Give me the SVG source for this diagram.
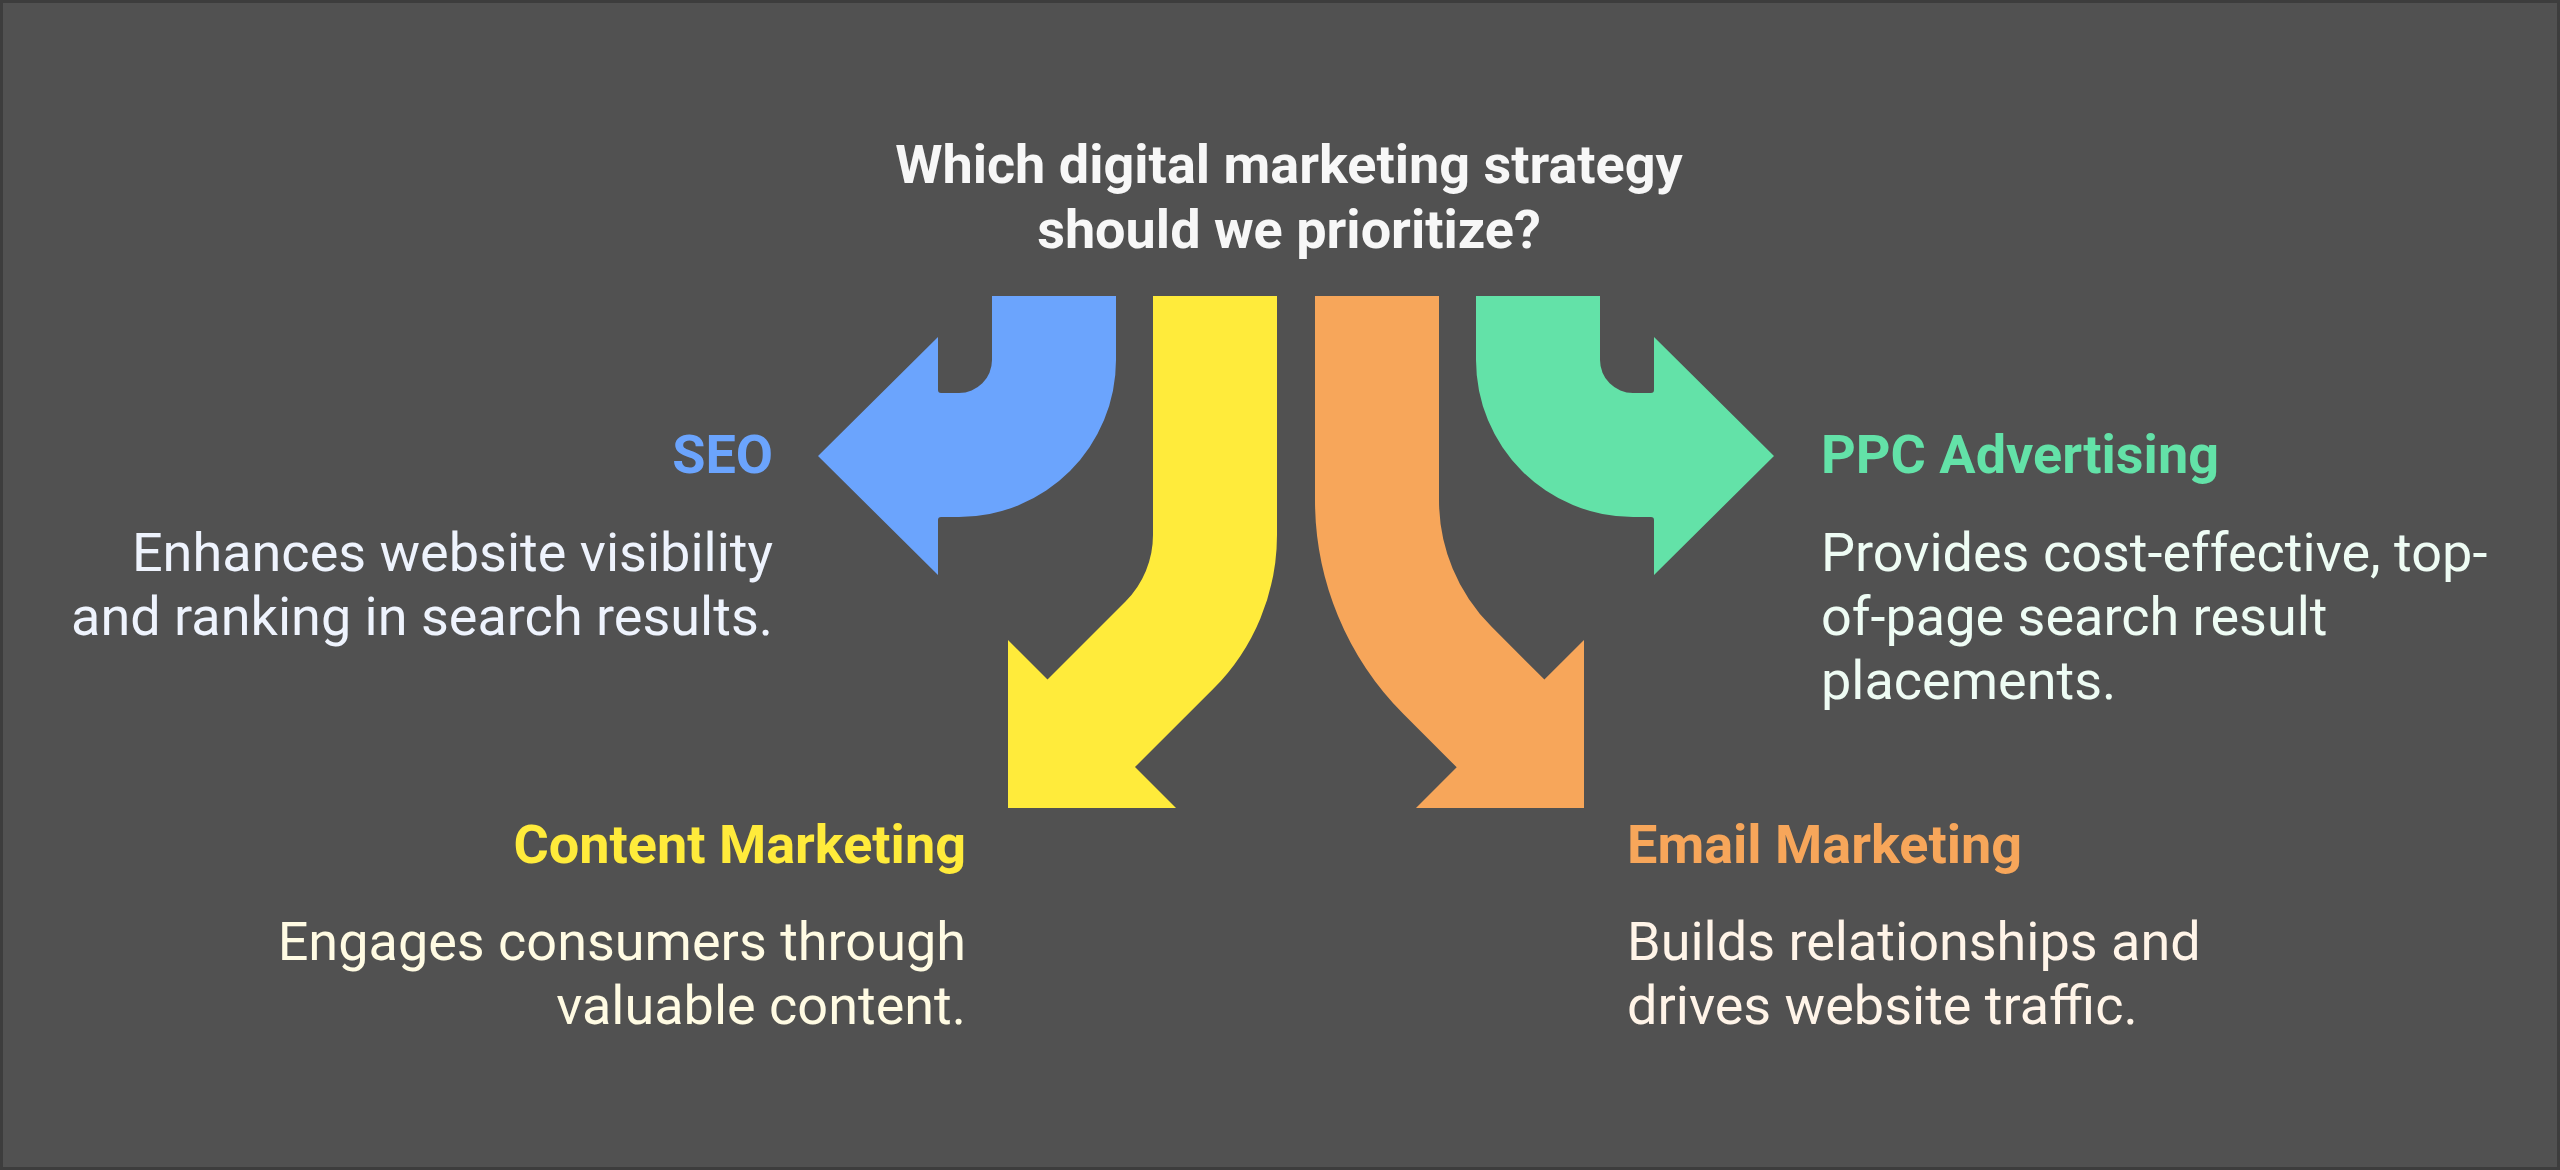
<svg xmlns="http://www.w3.org/2000/svg" width="2560" height="1170" viewBox="0 0 2560 1170">
  <style>
    .title { font-family: Roboto, "Liberation Sans", sans-serif; font-weight: 700; font-size: 54px; fill: #f7f7f7; text-anchor: middle; }
    .head { font-family: Roboto, "Liberation Sans", sans-serif; font-weight: 700; font-size: 54px; }
    .desc { font-family: Roboto, "Liberation Sans", sans-serif; font-weight: 400; font-size: 54px; }
    .end { text-anchor: end; }
    .start { text-anchor: start; }
  </style>
  <rect x="1.5" y="1.5" width="2557" height="1167" fill="#515151" stroke="#3d3d3d" stroke-width="3"/>

  <g id="title">
    <text class="title" x="1289" y="183">Which digital marketing strategy</text>
    <text class="title" x="1289" y="248">should we prioritize?</text>
  </g>

  <g id="connectors">
    <path id="arrow-seo" fill="#6ba4fd" d="M992,296 L1116,296 L1116,360 A157,157 0 0 1 959,517 L941,517 Q938,517 938,520 L938,575 L818,456 L938,337 L938,390 Q938,393 941,393 L959,393 A33,33 0 0 0 992,360 Z"/>
    <path id="arrow-content" fill="#ffeb3b" d="M1153,296 L1277,296 L1277,535 A218,218 0 0 1 1213.1,689.1 L1135,767 L1176,808 L1008,808 L1008,640 L1047.5,679.5 L1125.5,601.5 A94,94 0 0 0 1153,535 Z"/>
    <path id="arrow-email" fill="#f7a65a" d="M1315,296 L1439,296 L1439,500 A179,179 0 0 0 1491.4,626.6 L1544.4,679.6 L1584,640 L1584,808 L1416,808 L1456.7,767.3 L1403.7,714.3 A303,303 0 0 1 1315,500 Z"/>
    <path id="arrow-ppc" fill="#63e2a8" transform="translate(2592,0) scale(-1,1)" d="M992,296 L1116,296 L1116,360 A157,157 0 0 1 959,517 L941,517 Q938,517 938,520 L938,575 L818,456 L938,337 L938,390 Q938,393 941,393 L959,393 A33,33 0 0 0 992,360 Z"/>
  </g>

  <g id="node-seo">
    <text class="head end" x="773" y="473" fill="#6ba4fd">SEO</text>
    <text class="desc end" x="773" y="571" fill="#eef3fd">Enhances website visibility</text>
    <text class="desc end" x="773" y="635" fill="#eef3fd">and ranking in search results.</text>
  </g>

  <g id="node-ppc">
    <text class="head start" x="1821" y="473" fill="#63e2a8">PPC Advertising</text>
    <text class="desc start" x="1821" y="571" fill="#eefcf4">Provides cost-effective, top-</text>
    <text class="desc start" x="1821" y="635" fill="#eefcf4">of-page search result</text>
    <text class="desc start" x="1821" y="699" fill="#eefcf4">placements.</text>
  </g>

  <g id="node-content">
    <text class="head end" x="966" y="863" fill="#ffeb3b">Content Marketing</text>
    <text class="desc end" x="966" y="960" fill="#fffbe3">Engages consumers through</text>
    <text class="desc end" x="966" y="1024" fill="#fffbe3">valuable content.</text>
  </g>

  <g id="node-email">
    <text class="head start" x="1627" y="863" fill="#f7a65a">Email Marketing</text>
    <text class="desc start" x="1627" y="960" fill="#fff4e8">Builds relationships and</text>
    <text class="desc start" x="1627" y="1024" fill="#fff4e8">drives website traffic.</text>
  </g>
</svg>
